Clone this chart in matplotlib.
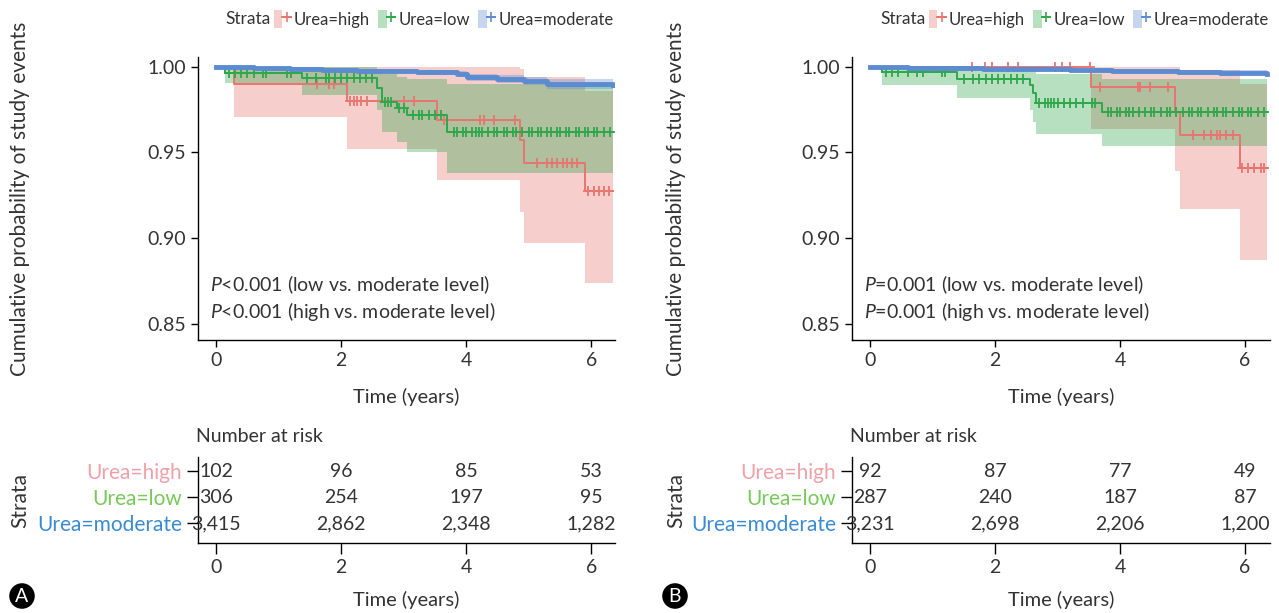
import numpy as np
import matplotlib
matplotlib.use('Agg')
import matplotlib.pyplot as plt
from matplotlib.patches import Patch
from matplotlib.lines import Line2D
from matplotlib.legend_handler import HandlerTuple

plt.rcParams['font.family'] = ['Lato', 'DejaVu Sans']
plt.rcParams['mathtext.fontset'] = 'custom'
plt.rcParams['mathtext.it'] = 'Lato:italic'
plt.rcParams['mathtext.rm'] = 'Lato'

W, H = 1279, 613
FS = 14
TXT = '#333333'

groups = ['Urea=high', 'Urea=low', 'Urea=moderate']
line_cols = ['#E8756F', '#2EA84A', '#5B8BD0']
label_cols = ['#F0A0A8', '#77C95A', '#3A8BD0']
risk_times = [0, 2, 4, 6]

# ---- panel A ----
a_hi_t = [0, 0.29, 2.09, 3.53, 4.86, 4.93, 5.90, 6.35]
a_hi_s = [1.0, 0.990, 0.980, 0.969, 0.957, 0.944, 0.9275, 0.9275]
a_hi_lo = [1.0, 0.971, 0.952, 0.934, 0.915, 0.897, 0.8735, 0.8735]
a_hi_up = [1.0, 1.0, 1.0, 1.0, 0.999, 0.994, 0.986, 0.986]
a_hi_cens = [1.61, 1.8, 1.88, 2.14, 2.2, 2.25, 2.32, 2.41, 3.0, 3.16, 3.64, 4.22, 4.28,
             4.44, 4.78, 5.13, 5.3, 5.38, 5.45, 5.55, 5.62, 5.7, 5.78, 5.95, 6.05,
             6.12, 6.2, 6.28]

a_lo_t = [0, 0.14, 1.37, 2.57, 2.65, 2.89, 3.05, 3.69, 6.35]
a_lo_s = [1.0, 0.9963, 0.9934, 0.9876, 0.9797, 0.9758, 0.972, 0.9618, 0.9618]
a_lo_lo = [1.0, 0.9904, 0.9836, 0.975, 0.962, 0.956, 0.9505, 0.9378, 0.9378]
a_lo_up = [1.0, 1.0, 1.0, 0.999, 0.996, 0.994, 0.993, 0.990, 0.990]
a_lo_cens = [0.2, 0.3, 0.4, 0.5, 0.6, 0.75, 0.8, 1.13, 1.19, 1.45, 1.6, 1.75, 1.8, 1.9,
             2.0, 2.1, 2.2, 2.3, 2.4, 2.5, 2.7, 2.75, 2.8, 2.92, 3.0, 3.15, 3.25, 3.3,
             3.4, 3.5, 3.6, 3.8, 3.85, 3.95, 4.0, 4.1, 4.15, 4.2, 4.25, 4.35, 4.45,
             4.5, 4.6, 4.65, 4.75, 4.8, 4.9, 5.0, 5.05, 5.15, 5.2, 5.3, 5.35, 5.45,
             5.5, 5.6, 5.65, 5.75, 5.8, 5.9, 5.95, 6.05, 6.1, 6.2, 6.3]

a_mod_t = [0, 0.12, 0.6, 1.18, 1.7, 2.25, 2.7, 3.21, 3.85, 4.01, 4.5, 4.92, 5.29, 6.35]
a_mod_s = [1.0, 0.9998, 0.9994, 0.9988, 0.9983, 0.9978, 0.9974, 0.9969, 0.9959,
           0.994, 0.993, 0.9918, 0.9899, 0.9895]
a_mod_lo = [1.0, 0.9995, 0.999, 0.998, 0.9974, 0.9968, 0.9962, 0.9955, 0.9943,
            0.992, 0.9908, 0.9895, 0.987, 0.9862]
a_mod_up = [1.0, 1.0, 0.9998, 0.9995, 0.9992, 0.9988, 0.9985, 0.9982, 0.9974,
            0.996, 0.995, 0.994, 0.9928, 0.9928]

a_risk = [[102, 96, 85, 53], [306, 254, 197, 95], [3415, 2862, 2348, 1282]]
a_pvals = ['$P$<0.001 (low vs. moderate level)', '$P$<0.001 (high vs. moderate level)']

# ---- panel B ----
b_hi_t = [0, 3.54, 4.88, 4.96, 5.92, 6.35]
b_hi_s = [1.0, 0.9881, 0.9735, 0.9602, 0.9411, 0.9411]
b_hi_lo = [1.0, 0.964, 0.939, 0.9168, 0.887, 0.887]
b_hi_up = [1.0, 1.0, 1.0, 0.998, 0.99, 0.99]
b_hi_cens = [1.63, 1.84, 1.95, 2.21, 2.37, 2.96, 3.07, 3.2, 3.52, 3.68, 4.29, 4.32, 4.48,
             4.77, 5.17, 5.35, 5.45, 5.55, 5.6, 5.7, 5.8, 5.95, 6.05, 6.15, 6.25, 6.3]

b_lo_t = [0, 0.19, 1.39, 2.56, 2.60, 2.65, 3.71, 6.35]
b_lo_s = [1.0, 0.9973, 0.993, 0.9895, 0.985, 0.9788, 0.9735, 0.9735]
b_lo_lo = [1.0, 0.9895, 0.982, 0.975, 0.968, 0.9608, 0.9538, 0.9538]
b_lo_up = [1.0, 1.0, 1.0, 0.999, 0.998, 0.996, 0.993, 0.993]
b_lo_cens = [0.25, 0.35, 0.45, 0.6, 0.75, 0.85, 1.15, 1.2, 1.5, 1.65, 1.75, 1.85, 1.95,
             2.05, 2.15, 2.25, 2.35, 2.45, 2.7, 2.8, 2.85, 2.9, 2.95, 3.0, 3.1, 3.2,
             3.3, 3.4, 3.55, 3.6, 3.8, 3.85, 3.95, 4.0, 4.1, 4.15, 4.2, 4.3, 4.4, 4.5,
             4.55, 4.65, 4.75, 4.8, 4.9, 5.0, 5.1, 5.15, 5.25, 5.3, 5.4, 5.5, 5.55,
             5.65, 5.7, 5.8, 5.9, 5.95, 6.05, 6.1, 6.2, 6.3]

b_mod_t = [0, 0.6, 1.2, 1.8, 2.43, 3.2, 3.87, 4.4, 4.93, 5.6, 6.35]
b_mod_s = [1.0, 0.9996, 0.9992, 0.999, 0.9988, 0.9983, 0.9979, 0.9974, 0.9969,
           0.9965, 0.9961]
b_mod_lo = [1.0, 0.9992, 0.9987, 0.9984, 0.9981, 0.9975, 0.997, 0.9963, 0.9956,
            0.995, 0.9944]
b_mod_up = [1.0, 0.9999, 0.9997, 0.9996, 0.9995, 0.9991, 0.9988, 0.9985, 0.9982,
            0.998, 0.9978]

b_risk = [[92, 87, 77, 49], [287, 240, 187, 87], [3231, 2698, 2206, 1200]]
b_pvals = ['$P$=0.001 (low vs. moderate level)', '$P$=0.001 (high vs. moderate level)']


def box(l, t, r, b):
    return [l / W, 1 - b / H, (r - l) / W, (b - t) / H]


def style_ax(ax):
    for s in ['top', 'right']:
        ax.spines[s].set_visible(False)
    for s in ['left', 'bottom']:
        ax.spines[s].set_linewidth(1.0)
    ax.tick_params(labelsize=FS, labelcolor=TXT, color='black', length=5, width=1.0)


def km_panel(ax, tab, curves, risk, pvals, xmax):
    for (t, s, lo, up, cens), c in zip(curves, line_cols):
        ax.fill_between(t, lo, up, step='post', color=c, alpha=0.35, lw=0)
    for i, ((t, s, lo, up, cens), c) in enumerate(zip(curves, line_cols)):
        lw = 3.5 if i == 2 else 1.4
        ax.step(t, s, where='post', color=c, lw=lw, zorder=3 + i)
        if cens:
            idx = np.searchsorted(t, cens, side='right') - 1
            ax.plot(cens, np.array(s)[idx], ls='none', marker='+', ms=7, mew=1.3,
                    color=c, zorder=3 + i)
    ax.set_xlim(-0.29, xmax)
    ax.set_ylim(0.8404, 1.0058)
    ax.set_yticks([0.85, 0.90, 0.95, 1.00])
    ax.set_yticklabels(['0.85', '0.90', '0.95', '1.00'])
    ax.set_xticks(risk_times)
    style_ax(ax)
    ax.set_xlabel('Time (years)', fontsize=14.5, color=TXT, labelpad=14)
    ax.set_ylabel('Cumulative probability of study events', fontsize=15, color=TXT)
    ax.text(-0.1, 0.8725, pvals[0], fontsize=FS, color=TXT, va='center')
    ax.text(-0.1, 0.857, pvals[1], fontsize=FS, color=TXT, va='center')

    rows = [3, 2, 1]
    for r, vals in zip(rows, risk):
        for x, v in zip(risk_times, vals):
            tab.text(x, r, f'{v:,}', ha='center', va='center', fontsize=FS, color=TXT)
    tab.set_xlim(-0.29, xmax)
    tab.set_ylim(0.25, 3.55)
    tab.set_yticks(rows)
    tab.set_yticklabels(groups)
    tab.set_xticks(risk_times)
    style_ax(tab)
    tab.tick_params(axis='both', length=8)
    tab.tick_params(axis='y', labelsize=15)
    for lab, c in zip(tab.get_yticklabels(), label_cols):
        lab.set_color(c)
    tab.set_xlabel('Time (years)', fontsize=14.5, color=TXT, labelpad=11)
    tab.set_ylabel('Strata', fontsize=15, color=TXT)
    tab.set_title('Number at risk', fontsize=FS, color=TXT, loc='left', pad=11,
                  x=-0.005)


fig = plt.figure(figsize=(W / 100, H / 100), dpi=100)

axA = fig.add_axes(box(198, 57, 615, 340))
tabA = fig.add_axes(box(198, 457, 615, 543))
axB = fig.add_axes(box(852, 57, 1270, 340))
tabB = fig.add_axes(box(852, 457, 1270, 543))

curvesA = [(a_hi_t, a_hi_s, a_hi_lo, a_hi_up, a_hi_cens),
           (a_lo_t, a_lo_s, a_lo_lo, a_lo_up, a_lo_cens),
           (a_mod_t, a_mod_s, a_mod_lo, a_mod_up, [])]
curvesB = [(b_hi_t, b_hi_s, b_hi_lo, b_hi_up, b_hi_cens),
           (b_lo_t, b_lo_s, b_lo_lo, b_lo_up, b_lo_cens),
           (b_mod_t, b_mod_s, b_mod_lo, b_mod_up, [])]

km_panel(axA, tabA, curvesA, a_risk, a_pvals, 6.38)
km_panel(axB, tabB, curvesB, b_risk, b_pvals, 6.40)

# y labels: right edge of the rotated text at a fixed pixel column
for ax, x in [(axA, 30), (tabA, 30), (axB, 686), (tabB, 686)]:
    ax.yaxis.set_label_coords(*ax.transAxes.inverted().transform(
        fig.transFigure.transform((x / W, 0.5)))[:1], 0.5)

# legends
handles = [(Patch(fc=c, alpha=0.35, ec='none'),
            Line2D([], [], color=c, marker='+', ms=7, mew=1.2, lw=1.3)) for c in line_cols]
for sx, lx in [(225, 274), (880, 929)]:
    fig.text(sx / W, 1 - 19 / H, 'Strata', fontsize=12.5, color=TXT, va='center')
    fig.legend(handles, groups, ncol=3, loc='center left',
               bbox_to_anchor=(lx / W, 1 - 19 / H), frameon=False, fontsize=12,
               handlelength=1.0, handleheight=1.3, handletextpad=0.2,
               columnspacing=0.5, borderpad=0, borderaxespad=0, labelcolor=TXT,
               handler_map={tuple: HandlerTuple(ndivide=None)})

# panel tags
for x, tag in [(22, 'A'), (675, 'B')]:
    fig.text(x / W, 1 - 596 / H, tag, fontsize=14, color='white', ha='center',
             va='center',
             bbox=dict(boxstyle='circle,pad=0.22', fc='black', ec='none'))

fig.savefig('out.png', dpi=100)
